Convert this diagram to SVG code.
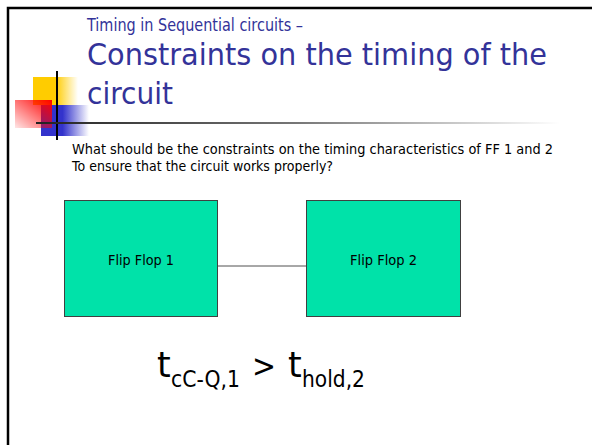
<svg xmlns="http://www.w3.org/2000/svg" width="592" height="445" viewBox="0 0 592 445">
  <defs>
    <linearGradient id="yel" x1="0" y1="0" x2="1" y2="0">
      <stop offset="0" stop-color="#FFCC00"/>
      <stop offset="0.5" stop-color="#FFCC00"/>
      <stop offset="1" stop-color="#FFCC00" stop-opacity="0"/>
    </linearGradient>
    <linearGradient id="blu" x1="0" y1="0" x2="1" y2="0">
      <stop offset="0" stop-color="#3333CC"/>
      <stop offset="0.45" stop-color="#3333CC"/>
      <stop offset="1" stop-color="#3333CC" stop-opacity="0"/>
    </linearGradient>
    <linearGradient id="red" x1="1" y1="0" x2="0" y2="1">
      <stop offset="0" stop-color="#FF0000"/>
      <stop offset="1" stop-color="#FF0000" stop-opacity="0.1"/>
    </linearGradient>
    <linearGradient id="rule" x1="0" y1="0" x2="1" y2="0">
      <stop offset="0" stop-color="#222222"/>
      <stop offset="0.5" stop-color="#777777"/>
      <stop offset="1" stop-color="#FFFFFF"/>
    </linearGradient>
    <style>
      .title { font-family: "DejaVu Sans", Verdana, sans-serif; fill: #333399; }
      .body { font-family: "DejaVu Sans", Verdana, sans-serif; fill: #000000; }
      .ff { fill: #00E2A9; stroke: #404040; stroke-width: 1; }
      .lbl { font-family: "DejaVu Sans", Verdana, sans-serif; font-size: 14px; fill: #000000; text-anchor: middle; }
      .conn { stroke: #505050; stroke-width: 1; fill: none; }
    </style>
  </defs>

  <rect x="0" y="0" width="592" height="445" fill="#FFFFFF"/>
  <!-- slide frame -->
  <path d="M8,460 V8 H600" fill="none" stroke="#000000" stroke-width="2.5"/>

  <!-- decoration -->
  <g id="decoration">
    <rect x="33" y="77" width="45" height="28" fill="url(#yel)"/>
    <rect x="41" y="105" width="48" height="31" fill="url(#blu)"/>
    <rect x="15" y="100" width="37" height="28" fill="url(#red)"/>
    <line x1="57" y1="71" x2="57" y2="140" stroke="#000000" stroke-width="2"/>
    <rect x="36" y="122" width="524" height="2" fill="url(#rule)"/>
  </g>

  <!-- titles -->
  <g id="title">
    <text class="title" x="87" y="31" font-size="17.5" textLength="216" lengthAdjust="spacingAndGlyphs">Timing in Sequential circuits –</text>
    <text class="title" x="87" y="65" font-size="31" textLength="460" lengthAdjust="spacingAndGlyphs">Constraints on the timing of the</text>
    <text class="title" x="87" y="104" font-size="31" textLength="86" lengthAdjust="spacingAndGlyphs">circuit</text>
  </g>

  <g id="question">
    <text class="body" x="72" y="154" font-size="13.5" textLength="481" lengthAdjust="spacingAndGlyphs">What should be the constraints on the timing characteristics of FF 1 and 2</text>
    <text class="body" x="72" y="171" font-size="13.5" textLength="261" lengthAdjust="spacingAndGlyphs">To ensure that the circuit works properly?</text>
  </g>

  <g id="connectors">
    <line class="conn" x1="218" y1="266" x2="307" y2="266"/>
  </g>

  <g id="ff1">
    <rect class="ff" x="64.5" y="200.5" width="153" height="116"/>
    <text class="lbl" x="141" y="265" textLength="66" lengthAdjust="spacingAndGlyphs">Flip Flop 1</text>
  </g>

  <g id="ff2">
    <rect class="ff" x="306.5" y="200.5" width="154" height="116"/>
    <text class="lbl" x="383.5" y="265" textLength="67" lengthAdjust="spacingAndGlyphs">Flip Flop 2</text>
  </g>

  <g id="formula" class="body">
    <text x="157" y="377" font-size="35">t</text>
    <text x="171" y="387" font-size="23" textLength="69" lengthAdjust="spacingAndGlyphs">cC-Q,1</text>
    <text x="252" y="377" font-size="32" textLength="24" lengthAdjust="spacingAndGlyphs">&gt;</text>
    <text x="288" y="377" font-size="35">t</text>
    <text x="302" y="387" font-size="23" textLength="63" lengthAdjust="spacingAndGlyphs">hold,2</text>
  </g>
</svg>
